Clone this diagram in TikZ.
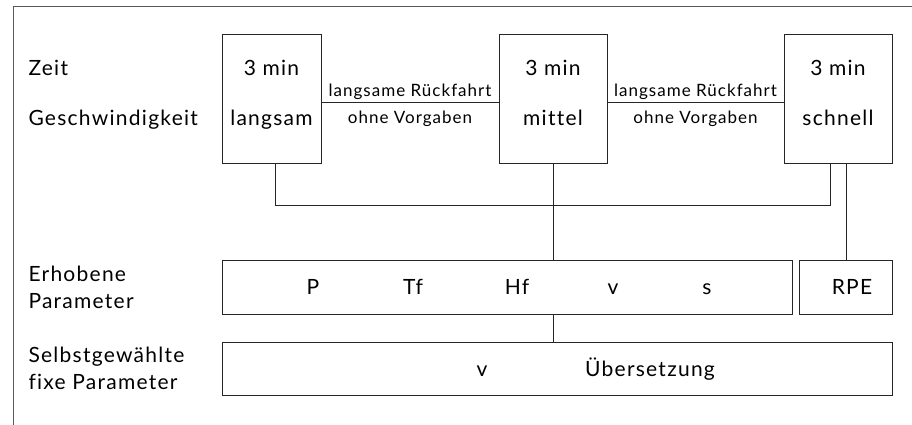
\documentclass[tikz,border=0pt]{standalone}
\usepackage{fontspec}
\setmainfont[LetterSpace=6,Ligatures=NoCommon]{Lato}
\begin{document}
\begin{tikzpicture}[x=1pt,y=-1pt,line width=1pt,
  box/.style={draw=black!85,line width=1pt,inner sep=0pt,outer sep=0pt},
  txt/.style={font=\fontsize{21}{24}\selectfont,inner sep=0pt,anchor=base},
  ltxt/.style={font=\fontsize{21}{24}\selectfont,inner sep=0pt,anchor=base west},
  stxt/.style={font=\fontsize{17}{20}\selectfont,inner sep=0pt,anchor=base},
  conn/.style={draw=black!85,line width=1pt}]
\useasboundingbox (0,0) rectangle (912,425);
\draw[black!65,line width=1pt] (13,425) -- (13,7) -- (912,7);
% top boxes
\node[box,minimum width=99,minimum height=128] (b1) at (271.5,99) {};
\node[box,minimum width=108,minimum height=128] (b2) at (553,99) {};
\node[box,minimum width=108,minimum height=128] (b3) at (838,99) {};
\node[txt] (b1t) at (271.5,76) {3 min};
\node[txt] (b1s) at (271.5,125) {langsam};
\node[txt] (b2t) at (553,76) {3 min};
\node[txt] (b2s) at (553,125) {mittel};
\node[txt] (b3t) at (838,76) {3 min};
\node[txt] (b3s) at (838,125) {schnell};
\node[ltxt] (zeit) at (28,76) {Zeit};
\node[ltxt] (gesch) at (28,125) {Geschwindigkeit};
% connectors between boxes
\draw[conn] ([yshift=-4pt]b1.east) -- ([yshift=-4pt]b2.west);
\draw[conn] ([yshift=-4pt]b2.east) -- ([yshift=-4pt]b3.west);
\node[stxt] (r1a) at (410,97) {langsame Rückfahrt};
\node[stxt] (r1b) at (410,124) {ohne Vorgaben};
\node[stxt] (r2a) at (695.5,97) {langsame Rückfahrt};
\node[stxt] (r2b) at (695.5,124) {ohne Vorgaben};
% lower boxes
\node[box,minimum width=570,minimum height=54] (erh) at (507,287) {};
\node[box,minimum width=93,minimum height=54] (rpe) at (845.5,287) {};
\node[box,minimum width=670,minimum height=53] (sel) at (557,368.5) {};
\node[txt] (p) at (313,294) {P};
\node[txt] (tf) at (413,294) {Tf};
\node[txt] (hf) at (517,294) {Hf};
\node[txt] (v1) at (613,294) {v};
\node[txt] (s) at (707,294) {s};
\node[txt] (rpet) at (852,294) {RPE};
\node[txt] (v2) at (482,376) {v};
\node[txt] (ueb) at (650,376) {Übersetzung};
\node[ltxt] (erh1) at (28,281) {Erhobene};
\node[ltxt] (erh2) at (28,308) {Parameter};
\node[ltxt] (sel1) at (28,362) {Selbstgewählte};
\node[ltxt] (sel2) at (28,389) {fixe Parameter};
% bracket
\coordinate (j1) at (275,205);
\coordinate (j3) at (830,205);
\draw[conn] (b1.south -| j1) -- (j1) -- (j3) -- (b3.south -| j3);
\draw[conn] (b2.south) -- (b2.south |- erh.north);
\draw[conn] (erh.south -| b2.south) -- (sel.north -| b2.south);
\coordinate (rx) at (846,0);
\draw[conn] (b3.south -| rx) -- (rpe.north -| rx);
\end{tikzpicture}
\end{document}
